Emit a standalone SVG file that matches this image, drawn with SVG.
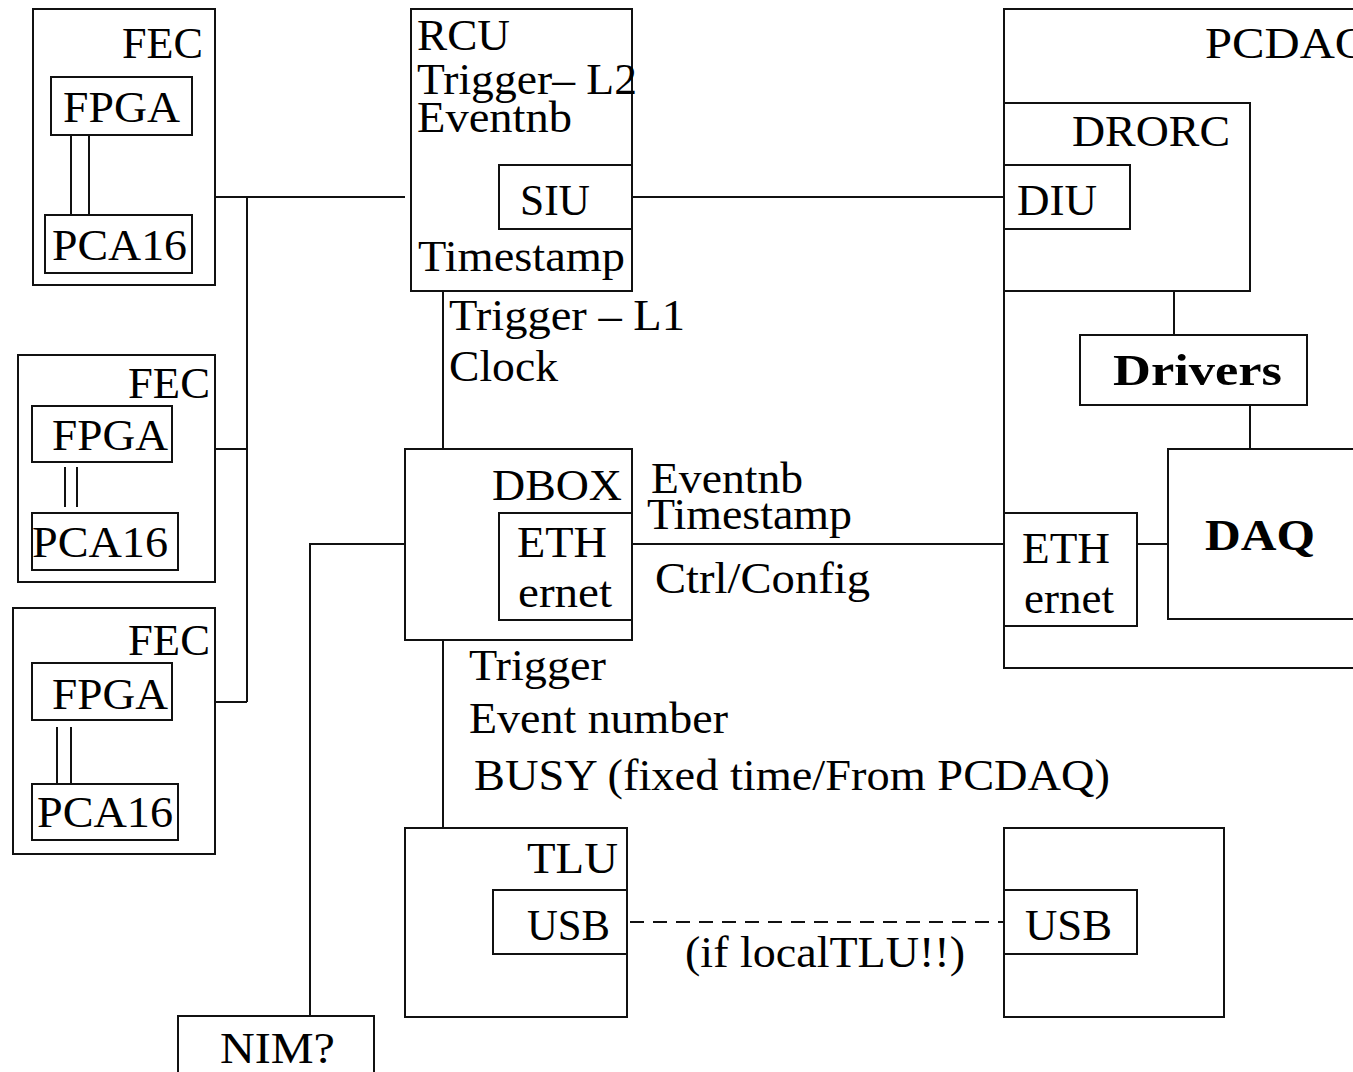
<svg xmlns="http://www.w3.org/2000/svg" width="1353" height="1072" viewBox="0 0 1353 1072">
<style>
rect{fill:none;stroke:#111;stroke-width:2}
line,path{fill:none;stroke:#111;stroke-width:2}
text{font-family:"Liberation Serif","Times New Roman",serif;font-size:44px;fill:#000}
.b{font-weight:bold}
.dash{stroke-dasharray:14 9}
</style>
<rect x="0" y="0" width="1353" height="1072" style="fill:#fff;stroke:none"/>
<g id="connectors">
<line x1="215" y1="197" x2="405" y2="197"/>
<line x1="247" y1="197" x2="247" y2="702"/>
<line x1="215" y1="449" x2="247" y2="449"/>
<line x1="215" y1="702" x2="247" y2="702"/>
<line x1="632" y1="197" x2="1004" y2="197"/>
<line x1="443" y1="291" x2="443" y2="449"/>
<line x1="443" y1="640" x2="443" y2="828"/>
<line x1="632" y1="544" x2="1004" y2="544"/>
<path d="M405 544 H310 V1016"/>
<line x1="1174" y1="291" x2="1174" y2="335"/>
<line x1="1250" y1="405" x2="1250" y2="449"/>
<line x1="1137" y1="544" x2="1168" y2="544"/>
<line class="dash" x1="630" y1="922" x2="1004" y2="922"/>
<text x="449" y="330" textLength="236" lengthAdjust="spacingAndGlyphs">Trigger – L1</text>
<text x="449" y="381" textLength="109" lengthAdjust="spacingAndGlyphs">Clock</text>
<text x="651" y="493" font-size="42" textLength="152" lengthAdjust="spacingAndGlyphs">Eventnb</text>
<text x="647" y="529" font-size="42" textLength="205" lengthAdjust="spacingAndGlyphs">Timestamp</text>
<text x="655" y="593" textLength="215" lengthAdjust="spacingAndGlyphs">Ctrl/Config</text>
<text x="469" y="680" textLength="137" lengthAdjust="spacingAndGlyphs">Trigger</text>
<text x="469" y="733" textLength="259" lengthAdjust="spacingAndGlyphs">Event number</text>
<text x="474" y="790" textLength="636" lengthAdjust="spacingAndGlyphs">BUSY (fixed time/From PCDAQ)</text>
<text x="685" y="967" textLength="280" lengthAdjust="spacingAndGlyphs">(if localTLU!!)</text>
</g>
<g id="fec1">
<rect x="33" y="9" width="182" height="276"/>
<text x="122" y="58" textLength="81" lengthAdjust="spacingAndGlyphs">FEC</text>
<rect x="51" y="77" width="141" height="58"/>
<text x="63" y="122" textLength="117" lengthAdjust="spacingAndGlyphs">FPGA</text>
<line x1="71" y1="135" x2="71" y2="215"/>
<line x1="89" y1="135" x2="89" y2="215"/>
<rect x="45" y="215" width="147" height="58"/>
<text x="52" y="260" textLength="135" lengthAdjust="spacingAndGlyphs">PCA16</text>
</g>
<g id="fec2">
<rect x="18" y="355" width="197" height="227"/>
<text x="128" y="398" textLength="82" lengthAdjust="spacingAndGlyphs">FEC</text>
<rect x="32" y="406" width="140" height="56"/>
<text x="52" y="450" textLength="116" lengthAdjust="spacingAndGlyphs">FPGA</text>
<line x1="65" y1="467" x2="65" y2="507"/>
<line x1="77" y1="467" x2="77" y2="507"/>
<rect x="32" y="513" width="146" height="57"/>
<text x="32" y="557" textLength="136" lengthAdjust="spacingAndGlyphs">PCA16</text>
</g>
<g id="fec3">
<rect x="13" y="608" width="202" height="246"/>
<text x="128" y="655" textLength="82" lengthAdjust="spacingAndGlyphs">FEC</text>
<rect x="32" y="663" width="140" height="57"/>
<text x="52" y="709" textLength="116" lengthAdjust="spacingAndGlyphs">FPGA</text>
<line x1="57" y1="727" x2="57" y2="784"/>
<line x1="71" y1="727" x2="71" y2="784"/>
<rect x="32" y="784" width="146" height="56"/>
<text x="37" y="827" textLength="136" lengthAdjust="spacingAndGlyphs">PCA16</text>
</g>
<g id="rcu">
<rect x="411" y="9" width="221" height="282"/>
<text x="417" y="50" textLength="93" lengthAdjust="spacingAndGlyphs">RCU</text>
<text x="417" y="94" font-size="42" textLength="220" lengthAdjust="spacingAndGlyphs">Trigger– L2</text>
<text x="417" y="132" font-size="42" textLength="155" lengthAdjust="spacingAndGlyphs">Eventnb</text>
<text x="418" y="271" textLength="207" lengthAdjust="spacingAndGlyphs">Timestamp</text>
</g>
<g id="siu">
<rect x="499" y="165" width="133" height="64"/>
<text x="520" y="215" textLength="70" lengthAdjust="spacingAndGlyphs">SIU</text>
</g>
<g id="dbox">
<rect x="405" y="449" width="227" height="191"/>
<text x="492" y="500" textLength="130" lengthAdjust="spacingAndGlyphs">DBOX</text>
</g>
<g id="eth-dbox">
<rect x="499" y="513" width="133" height="107"/>
<text x="517" y="557" textLength="90" lengthAdjust="spacingAndGlyphs">ETH</text>
<text x="518" y="607" textLength="94" lengthAdjust="spacingAndGlyphs">ernet</text>
</g>
<g id="tlu">
<rect x="405" y="828" width="222" height="189"/>
<text x="527" y="873" textLength="91" lengthAdjust="spacingAndGlyphs">TLU</text>
</g>
<g id="usb-tlu">
<rect x="493" y="890" width="134" height="64"/>
<text x="527" y="940" textLength="83" lengthAdjust="spacingAndGlyphs">USB</text>
</g>
<g id="pc-box">
<rect x="1004" y="828" width="220" height="189"/>
</g>
<g id="usb-pc">
<rect x="1004" y="890" width="133" height="64"/>
<text x="1025" y="940" textLength="87" lengthAdjust="spacingAndGlyphs">USB</text>
</g>
<g id="nim">
<rect x="178" y="1016" width="196" height="70"/>
<text x="220" y="1063" textLength="115" lengthAdjust="spacingAndGlyphs">NIM?</text>
</g>
<g id="pcdaq">
<rect x="1004" y="9" width="380" height="659"/>
<text x="1205" y="58" textLength="165" lengthAdjust="spacingAndGlyphs">PCDAQ</text>
</g>
<g id="drorc">
<rect x="1004" y="103" width="246" height="188"/>
<text x="1072" y="146" textLength="158" lengthAdjust="spacingAndGlyphs">DRORC</text>
</g>
<g id="diu">
<rect x="1004" y="165" width="126" height="64"/>
<text x="1017" y="215" textLength="80" lengthAdjust="spacingAndGlyphs">DIU</text>
</g>
<g id="drivers">
<rect x="1080" y="335" width="227" height="70"/>
<text class="b" x="1113" y="385" textLength="169" lengthAdjust="spacingAndGlyphs">Drivers</text>
</g>
<g id="daq">
<rect x="1168" y="449" width="220" height="170"/>
<text class="b" x="1205" y="550" font-size="48" textLength="110" lengthAdjust="spacingAndGlyphs">DAQ</text>
</g>
<g id="eth-pc">
<rect x="1004" y="513" width="133" height="113"/>
<text x="1022" y="563" textLength="88" lengthAdjust="spacingAndGlyphs">ETH</text>
<text x="1024" y="613" textLength="90" lengthAdjust="spacingAndGlyphs">ernet</text>
</g>
</svg>
